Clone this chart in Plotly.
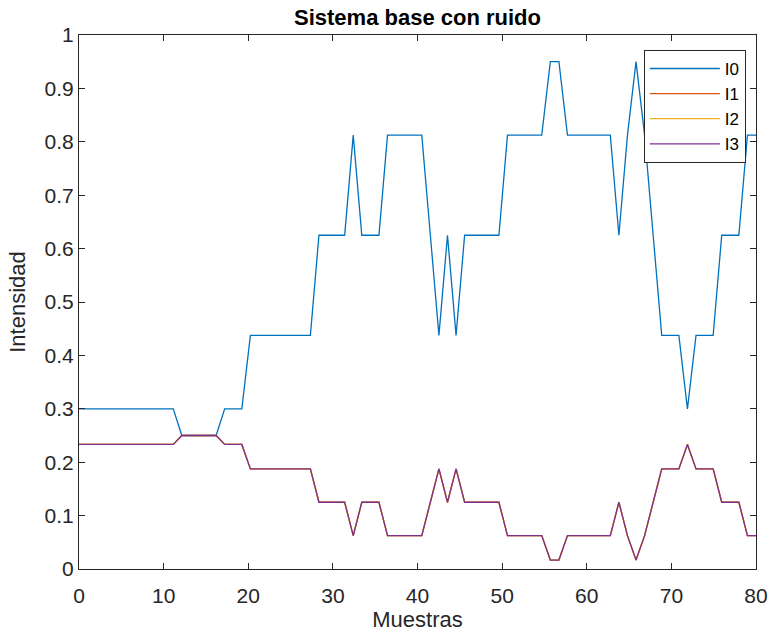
import numpy as np
import plotly.graph_objects as go

# Sample positions (80 samples spread over 0..80)
n_samples = 80
muestras = np.linspace(0, 80, n_samples)

# Intensity values
I0 = [0.3, 0.3, 0.3, 0.3, 0.3, 0.3, 0.3, 0.3, 0.3, 0.3,
      0.3, 0.3, 0.25, 0.25, 0.25, 0.25, 0.25, 0.3, 0.3, 0.3,
      0.4375, 0.4375, 0.4375, 0.4375, 0.4375, 0.4375, 0.4375, 0.4375, 0.625, 0.625,
      0.625, 0.625, 0.8125, 0.625, 0.625, 0.625, 0.8125, 0.8125, 0.8125, 0.8125,
      0.8125, 0.625, 0.4375, 0.625, 0.4375, 0.625, 0.625, 0.625, 0.625, 0.625,
      0.8125, 0.8125, 0.8125, 0.8125, 0.8125, 0.95, 0.95, 0.8125, 0.8125, 0.8125,
      0.8125, 0.8125, 0.8125, 0.625, 0.8125, 0.95, 0.8125, 0.625, 0.4375, 0.4375,
      0.4375, 0.3, 0.4375, 0.4375, 0.4375, 0.625, 0.625, 0.625, 0.8125, 0.8125]

I1 = [0.2333, 0.2333, 0.2333, 0.2333, 0.2333, 0.2333, 0.2333, 0.2333, 0.2333, 0.2333,
      0.2333, 0.2333, 0.25, 0.25, 0.25, 0.25, 0.25, 0.2333, 0.2333, 0.2333,
      0.1875, 0.1875, 0.1875, 0.1875, 0.1875, 0.1875, 0.1875, 0.1875, 0.125, 0.125,
      0.125, 0.125, 0.0625, 0.125, 0.125, 0.125, 0.0625, 0.0625, 0.0625, 0.0625,
      0.0625, 0.125, 0.1875, 0.125, 0.1875, 0.125, 0.125, 0.125, 0.125, 0.125,
      0.0625, 0.0625, 0.0625, 0.0625, 0.0625, 0.0167, 0.0167, 0.0625, 0.0625, 0.0625,
      0.0625, 0.0625, 0.0625, 0.125, 0.0625, 0.0167, 0.0625, 0.125, 0.1875, 0.1875,
      0.1875, 0.2333, 0.1875, 0.1875, 0.1875, 0.125, 0.125, 0.125, 0.0625, 0.0625]

I2 = list(I1)
I3 = list(I1)

series_names = ["I0", "I1", "I2", "I3"]
series_values = [I0, I1, I2, I3]
series_colors = ["#0072BD", "#D95319", "#EDB120", "#7E2F8E"]

x_ticks = [0, 10, 20, 30, 40, 50, 60, 70, 80]
y_ticks = [0, 0.1, 0.2, 0.3, 0.4, 0.5, 0.6, 0.7, 0.8, 0.9, 1]
y_ticklabels = ["0", "0.1", "0.2", "0.3", "0.4", "0.5", "0.6", "0.7", "0.8", "0.9", "1"]

FONT = "Liberation Sans, Arial, Helvetica, sans-serif"
AX = "#262626"

fig = go.Figure()
for name, vals, col in zip(series_names, series_values, series_colors):
    fig.add_trace(go.Scatter(x=muestras, y=vals, mode="lines", name=name,
                             line=dict(color=col, width=1.3)))

fig.update_layout(
    width=772, height=636,
    margin=dict(l=79, r=16, t=35, b=67, autoexpand=False),
    paper_bgcolor="white", plot_bgcolor="white",
    font=dict(family=FONT, color=AX, size=21),
    title=dict(text="<b>Sistema base con ruido</b>", x=0.5, xref="paper", xanchor="center",
               y=(636 - 17) / 636, yref="container", yanchor="middle",
               font=dict(family=FONT, size=22, color="black")),
    showlegend=True,
    legend=dict(x=0.985, y=0.972, xanchor="right", yanchor="top",
                bgcolor="white", bordercolor=AX, borderwidth=1,
                font=dict(family=FONT, size=17, color="black"),
                itemwidth=70, tracegroupgap=0),
)
fig.update_xaxes(range=[0, 80], tickvals=x_ticks, ticks="inside", ticklen=6,
                 tickcolor=AX, showline=True, linecolor=AX, linewidth=1,
                 mirror="ticks", showgrid=False, zeroline=False,
                 tickfont=dict(size=21, color=AX), ticklabelstandoff=8,
                 title=dict(text="Muestras", font=dict(size=22, color=AX), standoff=2))
fig.update_yaxes(range=[0, 1], tickvals=y_ticks, ticktext=y_ticklabels,
                 ticks="inside", ticklen=6,
                 tickcolor=AX, showline=True, linecolor=AX, linewidth=1,
                 mirror="ticks", showgrid=False, zeroline=False,
                 tickfont=dict(size=21, color=AX),
                 title=dict(text="Intensidad", font=dict(size=22, color=AX), standoff=12))

fig.write_html("out.html")
